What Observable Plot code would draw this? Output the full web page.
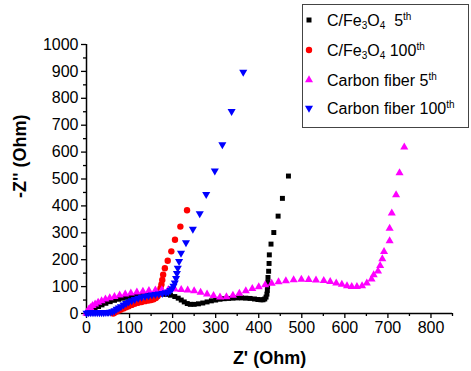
<!DOCTYPE html>
<html><head><meta charset="utf-8">
<script src="https://cdn.jsdelivr.net/npm/d3@7"></script>
<script src="https://cdn.jsdelivr.net/npm/@observablehq/plot@0.6"></script>
<style>body{margin:0;background:#fff}#chart{width:471px;height:371px}</style>
</head><body><div id="chart"></div>
<script>
// Series names
const seriesNames = ["C/Fe3O4 5th", "C/Fe3O4 100th", "Carbon fiber 5th", "Carbon fiber 100th"];

// C/Fe3O4 5th (black squares)
const cfe5X = [0,5,10,15,20,28,36,45,55,65,75,85,95,105,115,125,135,145,155,165,175,185,195,205,213,220,227,234,241,250,260,270,280,290,300,310,320,330,340,350,360,370,380,390,398,405,410,414,417,419,420,420.5,421,421.5,423,424,424.6,428.5,435,445,455,469];
const cfe5Y = [0,5,10,15,20,26,32,38,44,49,53,57,60,63,65,67,68,69,70,71,72,71,68,63,57,50,43,37,34,34,36,39,43,47,50,53,55,56,57,58,58,57,56,54,52,51,51,54,61,72,86,100,116,134,157,186,218,258,301,362,428,511];

// C/Fe3O4 100th (red circles)
const cfe100X = [62,65,70,75,80,86,92,98,105,112,120,128,136,144,150,156,161,165,168,170,172,174,176,178,182,188.6,197,205.5,218,233.5];
const cfe100Y = [0,3,7,11,15,19,23,27,32,36,40,43,46,48,50,53,58,64,72,82,94,108,125,144,168,196,231,274,323,384];

// Carbon fiber 5th (magenta up-triangles)
const cf5X = [0,2,5,9,14,20,27,35,44,54,65,77,90,103,117,131,145,160,175,190,205,220,235,250,265,280,295,310,325,340,355,370,385,400,415,430,446,463,481,499,516,533,551,566,580,593,605,616,628,640,651,662,667,677,682,687,691,704,704,709,719,727,738];
const cf5Y = [0,8,15,22,29,35,41,47,53,58,63,68,72,76,79,82,85,87,88,89,90,89,87,84,78,72,66,61,62,67,75,84,92,99,106,112,117,121,125,127,126,124,122,118,113,108,103,100,100,103,113,128,143,157,178,203,230,270,316,373,441,523,618];

// Carbon fiber 100th (blue down-triangles)
const cf100X = [0,5,10,15,20,25,30,35,40,45,50,55,60,65,70,75,80,86,92,98,105,112,120,128,136,144,152,160,168,176,184,190,195,199,202,205,208,210,212,215,219.5,231,247,263,278,298,315.5,337,364];
const cf100Y = [2,3,3,3,3,3,3,3,3,4,4,5,7,11,16,21,26,32,38,43,48,53,57,61,64,67,69,71,73,75,78,81,86,93,102,114,131,149,169,194,225,264,314,371,443,530,628,752,897];

// Axis ticks
const xTicks = [0,100,200,300,400,500,600,700,800];
const xMinor = [50,150,250,350,450,550,650,750,850];
const yTicks = [0,100,200,300,400,500,600,700,800,900,1000];
const yMinor = [50,150,250,350,450,550,650,750,850,950];

const toRows = (xs, ys, s) => xs.map((x, i) => ({x, y: ys[i], s}));
const black = toRows(cfe5X, cfe5Y, seriesNames[0]);
const red = toRows(cfe100X, cfe100Y, seriesNames[1]);
const magenta = toRows(cf5X, cf5Y, seriesNames[2]);
const blue = toRows(cf100X, cf100Y, seriesNames[3]);

const W = 471, H = 371;
const chart = Plot.plot({
  width: W, height: H,
  marginLeft: 86, marginRight: 19, marginTop: 44, marginBottom: 58,
  style: {fontFamily: "'Liberation Sans', Arial, sans-serif", fontSize: "16px", background: "#fff", color: "#000"},
  x: {domain: [0, 850]},
  y: {domain: [0, 1000]},
  marks: [
    Plot.axisX(xTicks, {tickSize: 5, tickPadding: 3, fontSize: 16, label: null, strokeWidth: 1.3, tickFormat: d => String(d)}),
    Plot.axisX(xMinor, {tickSize: 3, text: null, label: null, strokeWidth: 1.3}),
    Plot.axisY(yTicks, {tickSize: 5, tickPadding: 3, fontSize: 16, label: null, strokeWidth: 1.3, tickFormat: d => String(d)}),
    Plot.axisY(yMinor, {tickSize: 3, text: null, label: null, strokeWidth: 1.3}),
    Plot.ruleY([0], {stroke: "#000", strokeWidth: 1.5}),
    Plot.ruleX([0], {stroke: "#000", strokeWidth: 1.5}),
    Plot.dot(black, {x: "x", y: "y", symbol: "square", r: 2.8, fill: "#000", stroke: "none"}),
    Plot.dot(red, {x: "x", y: "y", symbol: "circle", r: 3.2, fill: "#ff0000", stroke: "none"}),
    Plot.dot(magenta, {x: "x", y: "y", symbol: "triangle", r: 3, fill: "#ff00ff", stroke: "none"}),
    Plot.dot(blue, {x: "x", y: "y", symbol: "triangle", rotate: 180, r: 3, fill: "#0000ff", stroke: "none"}),
    Plot.text(["Z' (Ohm)"], {frameAnchor: "bottom", lineAnchor: "middle", dy: 45, fontSize: 18, fontWeight: "bold"}),
    Plot.text(["-Z'' (Ohm)"], {frameAnchor: "left", lineAnchor: "middle", rotate: -90, dx: -66, dy: 19, fontSize: 18, fontWeight: "bold"})
  ]
});
document.getElementById("chart").appendChild(chart);

// Legend
const svg = d3.select(chart);
const lg = svg.append("g").attr("font-family", "'Liberation Sans', Arial, sans-serif").attr("font-size", 16).attr("text-anchor", "start");
lg.append("rect").attr("x", 302.5).attr("y", 4.5).attr("width", 166).attr("height", 123)
  .attr("fill", "#fff").attr("stroke", "#444").attr("stroke-width", 1);
const items = [
  {type: d3.symbolSquare, size: 25, fill: "#000", rot: 0, parts: [["C/Fe", 0], ["3", 1], ["O", 0], ["4", 1], ["  5", 0], ["th", 2]]},
  {type: d3.symbolCircle, size: 32, fill: "#ff0000", rot: 0, parts: [["C/Fe", 0], ["3", 1], ["O", 0], ["4", 1], [" 100", 0], ["th", 2]]},
  {type: d3.symbolTriangle, size: 28, fill: "#ff00ff", rot: 0, parts: [["Carbon fiber 5", 0], ["th", 2]]},
  {type: d3.symbolTriangle, size: 28, fill: "#0000ff", rot: 180, parts: [["Carbon fiber 100", 0], ["th", 2]]}
];
const rowY = [20, 50, 80, 108];
items.forEach((it, i) => {
  const y = rowY[i];
  lg.append("path").attr("d", d3.symbol(it.type, it.size)()).attr("fill", it.fill)
    .attr("transform", `translate(309,${y}) rotate(${it.rot})`);
  const t = lg.append("text").attr("x", 327).attr("y", y).attr("dy", "0.35em").attr("text-anchor", "start").style("white-space", "pre");
  it.parts.forEach(([s, k]) => {
    const ts = t.append("tspan").text(s);
    if (k === 1) ts.attr("font-size", 10).attr("baseline-shift", "-30%");
    if (k === 2) ts.attr("font-size", 10).attr("baseline-shift", "60%");
  });
});
</script>
</body></html>
